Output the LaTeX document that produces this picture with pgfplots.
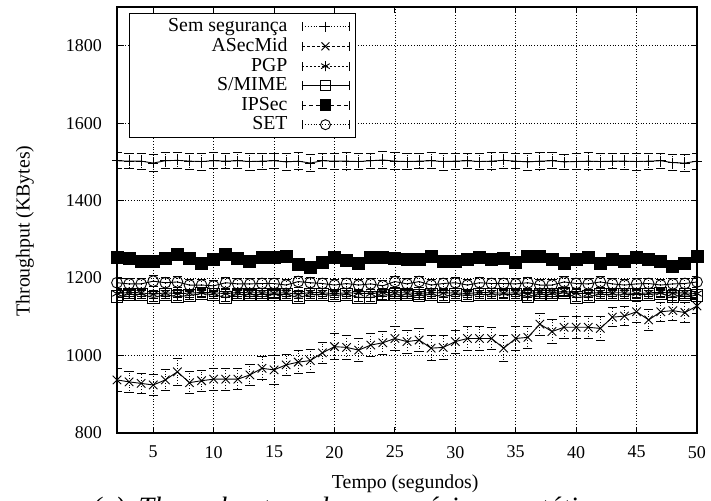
\documentclass[border=0pt]{standalone}
\usepackage{fontspec}
\setmainfont{Liberation Serif}
\usepackage{pgfplots}
\pgfplotsset{compat=1.18}
\usepackage{pgfplotstable}

% Throughput (KBytes) per second: mean and half-width of the error bar
% s = Sem seguranca, a = ASecMid, p = PGP, m = S/MIME, i = IPSec, t = SET
\pgfplotstableread{
x  s    se  a    ae  p    pe  m    me  i    ie  t    te
2  1503 21  937  30  1160 10  1152 10  1254 9   1188 14
3  1502 20  932  27  1163 10  1158 10  1251 9   1185 14
4  1502 21  928  26  1162 10  1158 10  1243 9   1185 14
5  1497 22  924  28  1158 10  1150 10  1242 9   1192 14
6  1503 21  937  27  1162 10  1157 10  1251 9   1188 14
7  1504 20  958  34  1160 10  1152 10  1260 9   1190 14
8  1502 21  930  28  1161 10  1155 10  1251 9   1182 14
9  1501 22  935  27  1163 10  1160 10  1238 9   1182 14
10 1503 21  939  28  1162 10  1157 10  1247 9   1180 14
11 1502 20  939  28  1160 10  1150 10  1262 9   1188 14
12 1503 21  939  27  1163 10  1158 10  1251 9   1185 14
13 1501 22  950  28  1162 10  1157 10  1243 9   1185 14
14 1502 21  967  30  1162 10  1158 10  1254 9   1186 14
15 1503 20  963  38  1161 10  1157 10  1254 9   1186 14
16 1500 21  976  28  1162 10  1158 10  1255 9   1182 14
17 1502 22  983  29  1158 10  1150 10  1236 9   1191 14
18 1497 21  987  30  1163 10  1157 10  1227 9   1188 14
19 1503 20  1007 28  1162 10  1158 10  1240 9   1186 14
20 1502 21  1023 33  1160 10  1155 10  1254 9   1182 14
21 1502 22  1021 32  1162 10  1158 10  1245 9   1186 14
22 1501 21  1014 30  1161 10  1150 10  1238 9   1182 14
23 1503 20  1027 30  1160 10  1150 10  1254 9   1185 14
24 1505 21  1033 30  1163 10  1156 10  1254 9   1180 14
25 1502 22  1044 32  1162 10  1157 10  1251 9   1191 14
26 1501 21  1036 30  1162 10  1157 10  1247 9   1185 14
27 1502 20  1040 30  1160 10  1155 10  1248 9   1191 14
28 1503 21  1019 32  1163 10  1158 10  1255 9   1182 14
29 1501 22  1021 30  1161 10  1152 10  1243 9   1186 14
30 1502 21  1036 30  1162 10  1158 10  1242 9   1188 14
31 1503 20  1044 30  1160 10  1155 10  1248 9   1182 14
32 1501 21  1044 30  1163 10  1158 10  1254 9   1188 14
33 1502 22  1044 28  1162 10  1157 10  1248 9   1186 14
34 1504 21  1019 34  1161 10  1157 10  1250 9   1186 14
35 1502 20  1044 30  1162 10  1158 10  1240 9   1185 14
36 1500 21  1047 28  1160 10  1152 10  1257 9   1188 14
37 1502 22  1081 28  1163 10  1158 10  1257 9   1182 14
38 1503 21  1062 30  1162 10  1158 10  1247 9   1182 14
39 1500 20  1073 28  1166 10  1162 10  1238 9   1190 14
40 1501 21  1073 28  1161 10  1150 10  1248 9   1186 14
41 1502 22  1073 28  1160 10  1152 10  1254 9   1185 14
42 1501 21  1070 30  1163 10  1158 10  1238 9   1190 14
43 1502 20  1099 25  1162 10  1157 10  1248 9   1185 14
44 1502 21  1102 25  1162 10  1157 10  1243 9   1182 14
45 1501 22  1113 27  1160 10  1158 10  1254 9   1185 14
46 1502 21  1092 28  1162 10  1158 10  1248 9   1186 14
47 1503 20  1113 25  1163 10  1160 10  1243 9   1182 14
48 1498 21  1116 25  1161 10  1152 10  1229 9   1185 14
49 1497 22  1111 25  1162 10  1157 10  1238 9   1186 14
50 1502 21  1128 20  1160 10  1155 10  1255 9   1190 14
}\throughput

\pgfplotsset{
  serie/.style={black, line width=0.45pt, mark options={solid, line width=0.45pt}},
  barras/.style={error bars/y dir=both, error bars/y explicit,
    error bars/error bar style={densely dotted, line width=0.45pt},
    error bars/error mark options={rotate=90, solid, line width=0.45pt, mark size=2.3pt}},
  chave/.style={legend image code/.code={
    \draw[##1, mark=none] (0pt,0pt) -- (23.5pt,0pt);
    \draw[##1, mark=none, solid] (0pt,-2.2pt) -- (0pt,2.2pt) (23.5pt,-2.2pt) -- (23.5pt,2.2pt);
    \draw[##1] plot coordinates {(11.75pt,0pt)};
  }},
}

\begin{document}
\begin{tikzpicture}
\begin{axis}[
  at={(0,0)}, anchor=south west,
  scale only axis, width=290pt, height=213pt,
  xmin=2, xmax=50, ymin=800, ymax=1900,
  xtick={5,10,...,50}, ytick={800,1000,...,1800},
  grid=major, grid style={densely dotted, black, line width=0.35pt},
  tick align=inside, major tick length=3pt,
  tick style={black, line width=0.5pt},
  axis line style={line width=0.55pt},
  tick label style={font=\fontsize{9}{10}\selectfont},
  yticklabel style={xshift=-4pt}, xticklabel style={yshift=-3pt},
  /pgf/number format/assume math mode=true,
  /pgf/number format/set thousands separator={},
  xlabel={Tempo (segundos)}, ylabel={Throughput (KBytes)},
  label style={font=\fontsize{9.9}{11}\selectfont},
  xlabel style={at={(axis description cs:0.497,-0.12)}, anchor=center},
  ylabel style={at={(axis description cs:-0.1586,0.474)}, anchor=center},
  legend style={at={(rel axis cs:0.0207,0.986)}, anchor=north west,
    draw=black, line width=0.5pt, fill=white,
    font=\fontsize{9.9}{11}\selectfont, row sep=-2.3pt, column sep=5pt,
    inner xsep=3pt, inner ysep=0.5pt},
  legend cell align=right, legend plot pos=right,
  chave,
]
\addlegendimage{serie, densely dotted, mark=+, mark size=2.5pt}
\addlegendentry{\makebox[74pt][r]{Sem segurança}}
\addlegendimage{serie, dash pattern=on 1.5pt off 1pt, mark=x, mark size=2.8pt}
\addlegendentry{ASecMid}
\addlegendimage{serie, dash pattern=on 1pt off 1pt, mark=asterisk, mark size=2.5pt}
\addlegendentry{PGP}
\addlegendimage{serie, solid, mark=square, mark size=2.5pt}
\addlegendentry{S/MIME}
\addlegendimage{serie, dash pattern=on 2pt off 1.5pt, mark=square*, mark size=2.7pt}
\addlegendentry{IPSec}
\addlegendimage{serie, densely dotted, mark=o, mark size=2.5pt}
\addlegendentry{SET}

\addplot[serie, mark=+, mark size=2.5pt, barras, forget plot]
  table[x=x, y=s, y error=se] {\throughput};
\addplot[serie, mark=x, mark size=3pt, barras, forget plot]
  table[x=x, y=a, y error=ae] {\throughput};
\addplot[serie, mark=asterisk, mark size=2.7pt, barras, forget plot]
  table[x=x, y=p, y error=pe] {\throughput};
\addplot[serie, mark=square, mark size=2.9pt, barras,
  error bars/error bar style={solid, line width=0.45pt}, forget plot]
  table[x=x, y=m, y error=me] {\throughput};
\addplot[serie, mark=square*, mark size=3pt, barras, forget plot]
  table[x=x, y=i, y error=ie] {\throughput};
\addplot[serie, mark=o, mark size=2.7pt, barras, forget plot]
  table[x=x, y=t, y error=te] {\throughput};
\end{axis}
\node[anchor=base west, font=\fontsize{14}{16}\selectfont\itshape]
  at (-16pt,-42pt) {\makebox[256pt][s]{(a)\hspace{7pt}Throughput do cenário estático}};
\pgfresetboundingbox
\path[use as bounding box] (-58.5pt,-34pt) rectangle (297pt,216.5pt);
\end{tikzpicture}
\end{document}
